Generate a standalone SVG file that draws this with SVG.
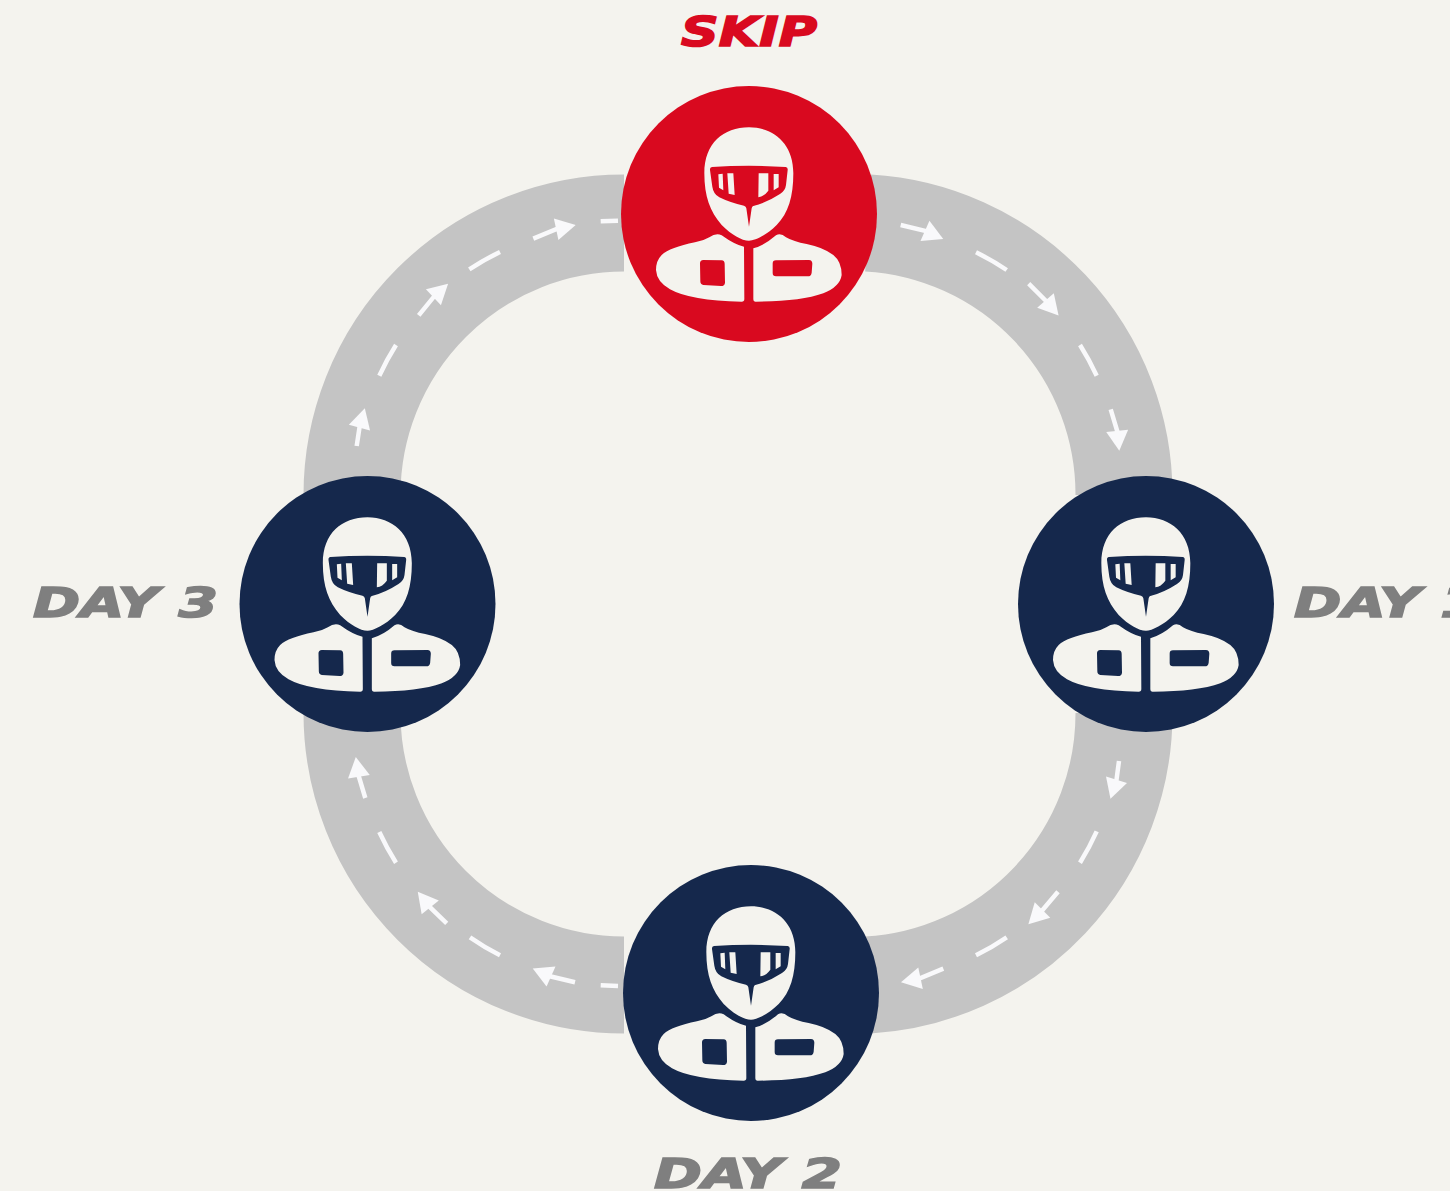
<svg xmlns="http://www.w3.org/2000/svg" xmlns:xlink="http://www.w3.org/1999/xlink" width="1450" height="1191" viewBox="0 0 1450 1191">
<style>
.bg{fill:#f4f3ee}
.road{fill:none;stroke:#c4c4c4;stroke-width:97}
.lane{fill:none;stroke:#f9f9fb;stroke-width:4.5}
.navy{fill:#15284c}
.red{fill:#d9091f}
.rider{fill:#f4f3ee;fill-rule:evenodd}
.lbl{font-family:"DejaVu Sans","Liberation Sans",sans-serif;font-weight:700;font-style:italic;font-size:41px;fill:#7f7f7f;stroke:#7f7f7f;stroke-width:1.6}
.lbl.hot{fill:#d9091f;stroke:#d9091f}
</style>
<defs>
<marker id="head" markerUnits="userSpaceOnUse" markerWidth="24" markerHeight="24" refX="2" refY="12" orient="auto" overflow="visible"><path d="M0 1L20 12L0 23Z" fill="#f9f9fb"/></marker>
<path id="rider" class="rider" transform="translate(-129 -214) scale(.33333)" d="M387 382C460 382 520 430 520 520C520 590 505 640 470 675C440 705 405 722 387 722C365 722 335 705 305 675C270 635 253 590 253 520C253 430 310 382 387 382Z
M276 501Q387 494 497 501Q504 502 503 510L498 555Q496 572 480 582Q440 608 400 618Q396 619 395 625L387 680L379 625Q378 619 372 617Q330 608 298 592Q280 582 277 560L270 510Q269 502 276 501Z
M295 523L308 521L310 571L297 563Z
M322 520L340 520L344 585L326 581Z
M416 520L445 520L445 572Q432 590 415 592Z
M461 522L476 522L476 562L461 571Z
M372 740Q345 735 305 706Q288 698 268 712Q250 723 225 727Q150 742 125 765Q108 782 108 810Q110 845 150 868Q210 902 365 905Q373 905 373 897Z
M400 745Q435 735 468 706Q482 697 498 712Q520 725 560 732Q610 742 640 765Q665 785 665 825Q660 860 610 880Q540 905 407 905Q400 905 400 897Z
M250 780L305 781Q314 782 314 792L315 848Q314 858 303 858L250 855Q241 854 241 844L240 790Q240 781 250 780Z
M468 781L567 780Q577 781 577 791L575 818Q574 829 563 829L468 829Q458 829 458 819L458 791Q458 781 468 781Z"/>
</defs>
<rect class="bg" width="1450" height="1191"/>
<g id="connectors">
<path class="road" d="M868 223A272 272 0 0 1 1124 495"/>
<path class="road" d="M1124 713A272 272 0 0 1 868 985"/>
<path class="road" d="M624 985A272 272 0 0 1 352 713"/>
<path class="road" d="M352 495A272 272 0 0 1 624 223"/>
<g class="lanes">
<path class="lane" marker-end="url(#head)" d="M900.7 225L925 230.9L926.8 231.7"/>
<path class="lane" d="M976 252.3A272 272 0 0 1 1006.7 270"/>
<path class="lane" marker-end="url(#head)" d="M1028.7 283.7L1045.5 300.5L1046.8 302"/>
<path class="lane" d="M1080 345A272 272 0 0 1 1096.7 375.7"/>
<path class="lane" marker-end="url(#head)" d="M1110.7 409.3L1117.2 431L1117.4 432.9"/>
<path class="lane" marker-end="url(#head)" d="M1119 761L1116.5 779.7L1115.9 781.6"/>
<path class="lane" d="M1096.7 831.3A272 272 0 0 1 1080 862.7"/>
<path class="lane" marker-end="url(#head)" d="M1058 891.7L1042.4 910.2L1041.1 911.5"/>
<path class="lane" d="M1006.7 937.3A272 272 0 0 1 976 955.3"/>
<path class="lane" marker-end="url(#head)" d="M943.3 968.7L920.5 978.2L918.6 978.6"/>
<path class="lane" d="M618 986L600.7 985.3"/>
<path class="lane" marker-end="url(#head)" d="M575 982.3L551 976.5L549.2 975.7"/>
<path class="lane" d="M500 955.3A272 272 0 0 1 470 937.3"/>
<path class="lane" marker-end="url(#head)" d="M446.7 923.3L430.2 907.4L429 905.9"/>
<path class="lane" d="M396 862.7A272 272 0 0 1 379.3 832"/>
<path class="lane" marker-end="url(#head)" d="M365.3 798L358.9 776.7L358.6 774.8"/>
<path class="lane" marker-end="url(#head)" d="M356.7 446L359.5 427.5L360 425.7"/>
<path class="lane" d="M379.3 375.7A272 272 0 0 1 396 345"/>
<path class="lane" marker-end="url(#head)" d="M418.7 315.3L433.5 297.2L434.9 295.9"/>
<path class="lane" d="M469.3 269.3A272 272 0 0 1 500 252"/>
<path class="lane" marker-end="url(#head)" d="M533.3 238.7L556.2 229.2L558.1 228.8"/>
<path class="lane" d="M600.7 221.3L618 220.7"/>
</g>
</g>
<g id="node-skip">
<circle class="red" cx="749" cy="214" r="128"/>
<use href="#rider" xlink:href="#rider" transform="translate(749 214)"/>
<text class="lbl hot" x="681" y="46" textLength="136" lengthAdjust="spacingAndGlyphs">SKIP</text>
</g>
<g id="node-day1">
<circle class="navy" cx="1146" cy="604" r="128"/>
<use href="#rider" xlink:href="#rider" transform="translate(1146 604)"/>
<text class="lbl" x="1294" y="617" textLength="186" lengthAdjust="spacingAndGlyphs">DAY 1</text>
</g>
<g id="node-day2">
<circle class="navy" cx="751" cy="993" r="128"/>
<use href="#rider" xlink:href="#rider" transform="translate(751 993)"/>
<text class="lbl" x="654" y="1188" textLength="188" lengthAdjust="spacingAndGlyphs">DAY 2</text>
</g>
<g id="node-day3">
<circle class="navy" cx="367.500" cy="604" r="128"/>
<use href="#rider" xlink:href="#rider" transform="translate(367.500 604)"/>
<text class="lbl" x="33" y="617" textLength="185" lengthAdjust="spacingAndGlyphs">DAY 3</text>
</g>
</svg>
